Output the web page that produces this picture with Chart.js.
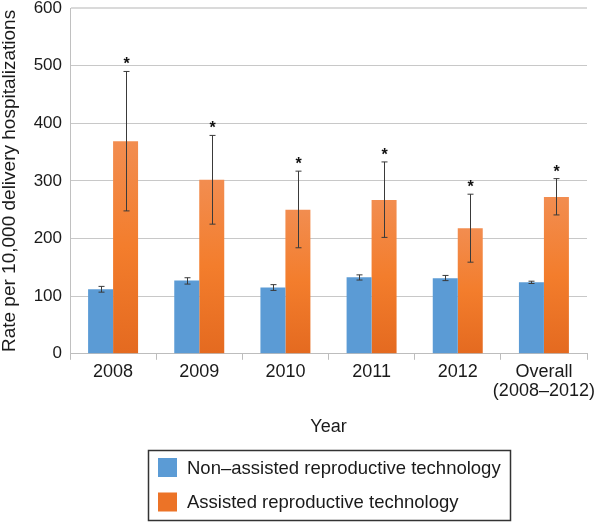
<!DOCTYPE html>
<html>
<head>
<meta charset="utf-8">
<script src="https://cdn.jsdelivr.net/npm/chart.js@4/dist/chart.umd.min.js"></script>
<style>
html,body{margin:0;padding:0;background:#fff;}
#wrap{position:relative;width:600px;height:522px;}
</style>
</head>
<body>
<div id="wrap"><canvas id="c" width="600" height="522"></canvas></div>
<script>
const categories = [["2008"], ["2009"], ["2010"], ["2011"], ["2012"], ["Overall", "(2008\u20132012)"]];
const seriesNames = ["Non\u2013assisted reproductive technology", "Assisted reproductive technology"];
const nonArt = [112, 127, 115, 133, 131, 124];
const nonArtLow = [107, 121, 110, 128, 127, 122];
const nonArtHigh = [117, 132, 120, 137, 136, 126];
const art = [369, 302, 250, 267, 218, 272];
const artLow = [248, 225, 184, 202, 159, 241];
const artHigh = [490, 379, 317, 333, 277, 304];
const significant = [true, true, true, true, true, true];
const yTicks = [0, 100, 200, 300, 400, 500, 600];

const FONT = "'Liberation Sans', Arial, sans-serif";

function orangeGrad(ctx) {
  const chart = ctx.chart;
  const ca = chart.chartArea;
  if (!ca || ctx.type !== 'data') return '#EE7A33';
  const y = chart.scales.y;
  const top = y.getPixelForValue(ctx.raw);
  const bottom = y.getPixelForValue(0);
  const g = chart.ctx.createLinearGradient(0, top, 0, bottom);
  g.addColorStop(0, '#F28D50');
  g.addColorStop(0.5, '#F37D2C');
  g.addColorStop(1, '#E46A20');
  return g;
}

const errorBars = {
  id: 'errorBars',
  afterDatasetsDraw(chart) {
    const c = chart.ctx;
    const y = chart.scales.y;
    const lows = [nonArtLow, artLow];
    const highs = [nonArtHigh, artHigh];
    c.save();
    for (let d = 0; d < 2; d++) {
      const meta = chart.getDatasetMeta(d);
      meta.data.forEach((bar, i) => {
        const x = Math.round(bar.x) + 0.5;
        const yl = y.getPixelForValue(lows[d][i]);
        const yh = y.getPixelForValue(highs[d][i]);
        c.strokeStyle = '#3a3a3a';
        c.lineWidth = 1;
        c.beginPath();
        c.moveTo(x, yh); c.lineTo(x, yl);
        c.moveTo(x - 3, yh); c.lineTo(x + 3, yh);
        c.moveTo(x - 3, yl); c.lineTo(x + 3, yl);
        c.stroke();
        if (d === 1 && significant[i]) {
          c.fillStyle = '#111';
          c.font = "bold 16px " + FONT;
          c.textAlign = 'center';
          c.textBaseline = 'alphabetic';
          c.fillText('*', x, yh - 2);
        }
      });
    }
    c.restore();
  }
};

const boxLegend = {
  id: 'boxLegend',
  afterDraw(chart) {
    const c = chart.ctx;
    c.save();
    c.strokeStyle = '#333';
    c.lineWidth = 1.5;
    c.strokeRect(148.5, 450.5, 362, 70);
    const colors = ['#5B9BD5', '#EC7327'];
    const ys = [467.5, 502];
    chart.data.datasets.forEach((ds, i) => {
      c.fillStyle = colors[i];
      c.fillRect(158, ys[i] - 9.5, 19, 19);
      c.fillStyle = '#1a1a1a';
      c.font = "18.5px " + FONT;
      c.textAlign = 'left';
      c.textBaseline = 'middle';
      c.fillText(ds.label, 187, ys[i] + 1);
    });
    c.restore();
  }
};

new Chart(document.getElementById('c'), {
  type: 'bar',
  data: {
    labels: categories,
    datasets: [
      { label: seriesNames[0], data: nonArt, backgroundColor: '#5B9BD5', borderWidth: 0 },
      { label: seriesNames[1], data: art, backgroundColor: orangeGrad, borderWidth: 0 }
    ]
  },
  options: {
    responsive: false,
    animation: false,
    devicePixelRatio: 1,
    events: [],
    layout: { padding: { left: 0, right: 13, top: 0, bottom: 84 } },
    datasets: { bar: { categoryPercentage: 0.58, barPercentage: 1.0 } },
    plugins: { legend: { display: false }, tooltip: { enabled: false } },
    scales: {
      x: {
        grid: { display: true, drawOnChartArea: false, drawTicks: true, tickLength: 6, color: '#bdbdbd', offset: true },
        border: { display: true, color: '#bdbdbd', width: 1 },
        ticks: { color: '#1a1a1a', font: { family: FONT, size: 18, lineHeight: 1.1 }, padding: 2, maxRotation: 0, autoSkip: false },
        title: { display: true, text: 'Year', color: '#1a1a1a', font: { family: FONT, size: 18, lineHeight: 1.2 }, padding: { top: 13, bottom: 0 } }
      },
      y: {
        min: 0, max: 600,
        afterBuildTicks(axis) { axis.ticks = yTicks.map(v => ({ value: v })); },
        afterFit(axis) { axis.width = 70; },
        grid: {
          drawTicks: true,
          tickLength: 8,
          tickColor: 'rgba(0,0,0,0)',
          color: (ctx) => ctx.tick && ctx.tick.value === 600 ? '#dadada' : '#c8c8c8',
          lineWidth: (ctx) => ctx.tick && ctx.tick.value === 600 ? 2 : 1
        },
        border: { display: true, color: '#c0c0c0', width: 1 },
        ticks: { color: '#1a1a1a', font: { family: FONT, size: 17, lineHeight: 0.95 }, padding: 0 },
        title: { display: true, text: 'Rate per 10,000 delivery hospitalizations', color: '#1a1a1a', font: { family: FONT, size: 19, lineHeight: 1.0 }, padding: { top: 0, bottom: 0 } }
      }
    }
  },
  plugins: [errorBars, boxLegend]
});
</script>
</body>
</html>
